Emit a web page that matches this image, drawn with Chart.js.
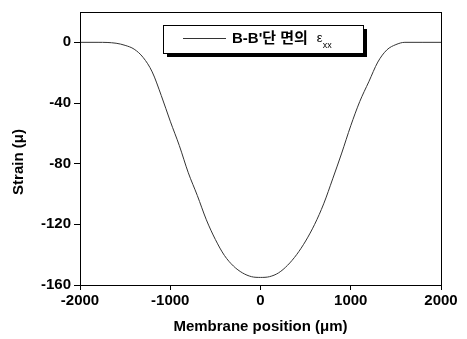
<!DOCTYPE html>
<html>
<head>
<meta charset="utf-8">
<script src="https://cdn.jsdelivr.net/npm/chart.js@4/dist/chart.umd.min.js"></script>
<style>
  html, body { margin: 0; padding: 0; background: #fff; }
  #wrap { width: 467px; height: 339px; position: relative; }
</style>
</head>
<body>
<div id="wrap"><canvas id="myChart" width="467" height="339"></canvas></div>
<script>
// membrane position (um) and strain values
const positions = [-2000, -1800, -1600, -1500, -1400, -1300, -1200, -1100, -1000, -900, -800, -700, -600, -500, -400, -300, -200, -100, 0,
  100, 200, 300, 400, 500, 600, 700, 800, 900, 1000, 1100, 1200, 1300, 1400, 1500, 1600, 1800, 2000]
const strain = [0, 0, -0.6, -2, -4.5, -10, -19.5, -35, -52, -68, -86, -101, -117, -130, -140.5, -147.5, -152, -154.5, -155,
  -154.5, -152, -147, -140, -131, -120, -106.5, -90, -73, -55, -39, -26, -13, -5, -1.5, 0, 0, 0]
const xTicks = [-2000, -1000, 0, 1000, 2000]
const yTicks = [-160, -120, -80, -40, 0]
const seriesLabel = "B-B'단 면의"
const yTitle = 'Strain (μ)'
const xTitle = 'Membrane position (μm)'

const family = '"Liberation Sans", Arial, "Noto Sans CJK KR", sans-serif'

// boxed legend with drop shadow and subscript
const legendBox = {
  id: 'legendBox',
  afterDraw (chart) {
    const ctx = chart.ctx
    const a = chart.chartArea
    const x = a.left + 83
    const y = a.top + 13
    const w = 200
    const h = 28
    ctx.save()
    ctx.fillStyle = '#000'
    ctx.fillRect(x + 4, y + 4, w, h)
    ctx.fillStyle = '#fff'
    ctx.fillRect(x, y, w, h)
    ctx.strokeStyle = '#000'
    ctx.lineWidth = 1
    ctx.strokeRect(x + 0.5, y + 0.5, w, h)
    ctx.strokeStyle = '#333'
    ctx.beginPath()
    ctx.moveTo(x + 20, y + 13.5)
    ctx.lineTo(x + 63, y + 13.5)
    ctx.stroke()
    ctx.fillStyle = '#000'
    ctx.textBaseline = 'middle'
    ctx.font = 'bold 15px ' + family
    ctx.fillText(seriesLabel, x + 69, y + 14)
    const tw = ctx.measureText(seriesLabel).width
    ctx.font = '13px "Liberation Sans", Arial, sans-serif'
    ctx.fillText('ε', x + 69 + tw + 9, y + 13)
    ctx.font = '9px "Liberation Sans", Arial, sans-serif'
    ctx.fillText('xx', x + 69 + tw + 15, y + 21)
    ctx.restore()
  }
}

// top and right frame lines, rotated y title
const frame = {
  id: 'frame',
  afterDraw (chart) {
    const ctx = chart.ctx
    const a = chart.chartArea
    ctx.save()
    ctx.strokeStyle = '#000'
    ctx.lineWidth = 1
    ctx.strokeRect(Math.round(a.left) + 0.5, Math.round(a.top) + 0.5, Math.round(a.right - a.left), Math.round(a.bottom - a.top))
    ctx.translate(19, 162)
    ctx.rotate(-Math.PI / 2)
    ctx.fillStyle = '#000'
    ctx.font = 'bold 15px ' + family
    ctx.textAlign = 'center'
    ctx.textBaseline = 'middle'
    ctx.fillText(yTitle, 0, 0)
    ctx.restore()
  }
}

const tickFont = { family: family, size: 15, weight: 'bold' }

new Chart(document.getElementById('myChart'), {
  type: 'line',
  data: {
    datasets: [{
      label: seriesLabel,
      data: positions.map((p, i) => ({ x: p, y: strain[i] })),
      borderColor: '#333',
      borderWidth: 1,
      pointRadius: 0,
      cubicInterpolationMode: 'monotone',
      fill: false
    }]
  },
  plugins: [legendBox, frame],
  options: {
    responsive: false,
    animation: false,
    devicePixelRatio: 1,
    layout: { padding: { left: 0, right: 26, top: 9, bottom: 0 } },
    plugins: { legend: { display: false }, tooltip: { enabled: false } },
    scales: {
      x: {
        type: 'linear',
        min: -2000,
        max: 2000,
        afterBuildTicks (scale) { scale.ticks = xTicks.map(v => ({ value: v })) },
        afterFit (scale) { scale.height = 54 },
        grid: { drawOnChartArea: false, drawTicks: true, tickLength: 5, color: '#000' },
        border: { display: true, color: '#000', width: 1 },
        ticks: { color: '#000', font: tickFont, padding: 2, maxRotation: 0, callback: v => String(v) },
        title: {
          display: true,
          text: xTitle,
          color: '#000',
          font: tickFont,
          padding: { top: 3, bottom: 3 }
        }
      },
      y: {
        min: -160,
        max: 20,
        afterBuildTicks (scale) { scale.ticks = yTicks.map(v => ({ value: v })) },
        afterFit (scale) { scale.width = 80 },
        grid: { drawOnChartArea: false, drawTicks: true, tickLength: 6, color: '#000' },
        border: { display: true, color: '#000', width: 1 },
        ticks: { color: '#000', font: tickFont, padding: 3, callback: v => String(v) }
      }
    }
  }
})
</script>
</body>
</html>
